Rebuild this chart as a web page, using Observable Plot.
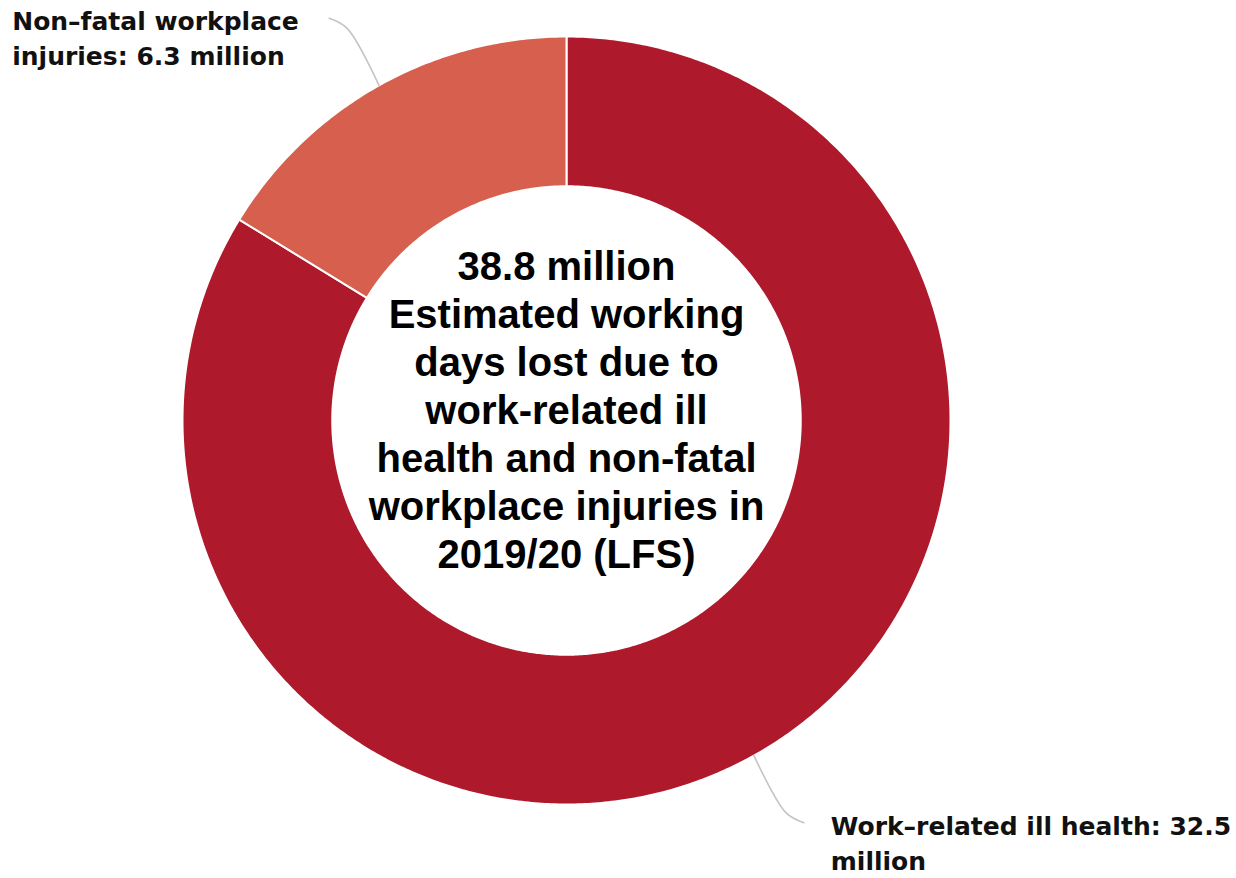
<!DOCTYPE html>
<html>
<head>
<meta charset="utf-8">
<script src="https://cdn.jsdelivr.net/npm/d3@7"></script>
<script src="https://cdn.jsdelivr.net/npm/@observablehq/plot@0.6"></script>
<style>
  html, body { margin: 0; padding: 0; background: #ffffff; }
  #chart svg { display: block; }
</style>
</head>
<body>
<div id="chart"></div>
<script>
// ---- Data ----
const categories = ["Work–related ill health", "Non–fatal workplace injuries"];
const values = [32.5, 6.3];
const sliceLabels = ["Work–related ill health: 32.5\nmillion", "Non–fatal workplace\ninjuries: 6.3 million"];
const centerLines = [
  "38.8 million",
  "Estimated working",
  "days lost due to",
  "work-related ill",
  "health and non-fatal",
  "workplace injuries in",
  "2019/20 (LFS)"
];
const sliceColors = ["#AE192C", "#D65F4E"];

// ---- Geometry (unit circle in data space) ----
const W = 1236, H = 878;
const cx = 566, cy = 420, R = 384;   // pixel centre/radius
const inner = 0.61;
const total = d3.sum(values);
let acc = 0;
const slices = categories.map((c, i) => {
  const a0 = acc / total * 2 * Math.PI;
  acc += values[i];
  const a1 = acc / total * 2 * Math.PI;
  return {key: c, value: values[i], a0, a1, mid: (a0 + a1) / 2, label: sliceLabels[i]};
});

const pt = (r, a) => ({x: r * Math.sin(a), y: r * Math.cos(a)});
const polys = [];
for (const s of slices) {
  const n = Math.max(8, Math.ceil((s.a1 - s.a0) / (Math.PI / 360)));
  for (let k = 0; k <= n; k++) polys.push({key: s.key, ...pt(1, s.a0 + (s.a1 - s.a0) * k / n)});
  for (let k = n; k >= 0; k--) polys.push({key: s.key, ...pt(inner, s.a0 + (s.a1 - s.a0) * k / n)});
}

// leader lines: radial from outer edge, hooking towards label side
const leaders = [];
const ends = {};
for (const s of slices) {
  const side = Math.sin(s.mid) >= 0 ? 1 : -1;
  const p0 = pt(1.0, s.mid), p1 = pt(1.17, s.mid), p2 = pt(1.2, s.mid);
  const end = {x: p2.x + side * 0.032, y: p2.y};
  leaders.push({key: s.key, ...p0}, {key: s.key, ...p1}, {key: s.key, ...end});
  ends[s.key] = {...s, ...end, side};
}

const xDomain = [-cx / R, (W - cx) / R];
const yDomain = [-(H - cy) / R, cy / R];

const rightLabel = [ends[categories[0]]];
const leftLabel = [ends[categories[1]]];

const chart = Plot.plot({
  width: W,
  height: H,
  margin: 0,
  x: {domain: xDomain, axis: null},
  y: {domain: yDomain, axis: null},
  color: {domain: categories, range: sliceColors},
  style: {background: "#ffffff", overflow: "visible"},
  marks: [
    Plot.line(polys, {x: "x", y: "y", z: "key", fill: "key", stroke: "#ffffff", strokeWidth: 2, curve: "linear-closed"}),
    Plot.line(leaders, {x: "x", y: "y", z: "key", stroke: "#c4c4c4", strokeWidth: 1.6, curve: "catmull-rom"}),
    Plot.text(rightLabel, {x: "x", y: "y", text: "label", textAnchor: "start", lineAnchor: "middle",
      dx: 27, dy: 19, fontFamily: "DejaVu Sans", fontWeight: "bold", fontSize: 25, lineHeight: 1.4, fill: "#111"}),
    Plot.text(leftLabel, {x: "x", y: "y", text: "label", textAnchor: "start", lineAnchor: "middle",
      dx: -317, dy: 18, fontFamily: "DejaVu Sans", fontWeight: "bold", fontSize: 25, lineHeight: 1.4, fill: "#111"}),
    Plot.text([centerLines.join("\n")], {x: () => 0, y: () => 0, text: d => d, textAnchor: "middle", lineAnchor: "middle",
      dy: -12, fontFamily: "Liberation Sans, Arial, sans-serif", fontWeight: "bold", fontSize: 40, lineHeight: 1.2, fill: "#000"})
  ]
});
document.getElementById("chart").appendChild(chart);
</script>
</body>
</html>
